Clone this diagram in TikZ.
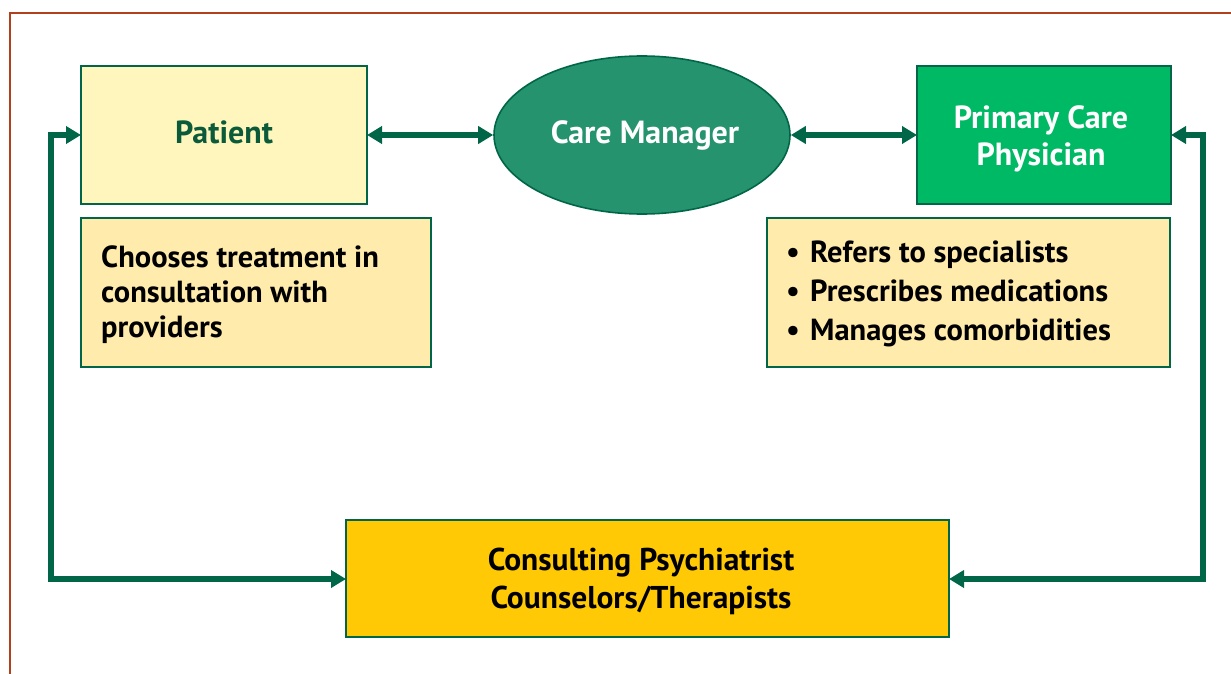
\documentclass[tikz,border=0pt]{standalone}
\usepackage{fontspec}
\setmainfont{PT Sans}
\usetikzlibrary{arrows.meta,shapes.geometric}
\definecolor{frame}{HTML}{B3401D}
\definecolor{dgreen}{HTML}{006647}
\definecolor{patfill}{HTML}{FEF6BD}
\definecolor{notefill}{HTML}{FFEBAB}
\definecolor{pcpfill}{HTML}{00B964}
\definecolor{cmfill}{HTML}{26936F}
\definecolor{psyfill}{HTML}{FFCA05}
\definecolor{pattext}{HTML}{0B5A3A}
\tikzset{
  boxst/.style={draw=dgreen, line width=1.6pt, inner sep=0pt},
  conn/.style={draw=dgreen, line width=5.5pt, {Triangle[length=15pt,width=17pt]}-{Triangle[length=15pt,width=17pt]}},
  txt/.style={font=\bfseries\fontsize{30.5}{35}\selectfont, inner sep=0pt},
  head/.style={font=\bfseries\fontsize{32}{37}\selectfont, inner sep=0pt},
}
\begin{document}
\begin{tikzpicture}[x=1pt,y=-1pt]
\useasboundingbox (0,0) rectangle (1231,674);
% frame
\draw[frame, line width=2.2pt] (10,680) -- (10,13) -- (1240,13);
% boxes
\path[boxst, fill=patfill] (81,66) rectangle (367,204);
\node[head, text=pattext] (pat) at (224,132) {Patient};
\coordinate (patW) at (81,135);
\coordinate (patE) at (367,135);
\node[boxst, fill=cmfill, ellipse, minimum width=296pt, minimum height=158pt] (cm) at (642,135) {};
\node[head, text=white] (cmt) at (645,135) {Care Manager};
\path[boxst, fill=pcpfill] (917,66) rectangle (1171,204);
\coordinate (pcpW) at (917,135);
\coordinate (pcpE) at (1171,135);
\node[head, text=white, align=center] (pcp) at (1041,139) {Primary Care\\Physician};
\path[boxst, fill=notefill] (81,218) rectangle (431,367);
\node[txt, anchor=base west] (ch1) at (101,267) {Chooses treatment in};
\node[txt, anchor=base west] (ch2) at (101,302) {consultation with};
\node[txt, anchor=base west] (ch3) at (101,337) {providers};
\path[boxst, fill=notefill] (767,218) rectangle (1170,367);
\foreach \y/\t in {262/Refers to specialists, 301/Prescribes medications, 340/Manages comorbidities}{
  \node[txt, anchor=base west] at (786,\y) {•};
  \node[txt, anchor=base west] at (810,\y) {\t};
}
\path[boxst, fill=psyfill, line width=1.2pt] (346,520) rectangle (949,637);
\coordinate (psyW) at (346,579);
\coordinate (psyE) at (949,579);
\node[head, align=center, font=\bfseries\fontsize{31.5}{38}\selectfont] (psy) at (641,581) {Consulting Psychiatrist\\Counselors/Therapists};
% connectors
\draw[conn] (patE) -- (cm.west);
\draw[conn] (cm.east) -- (pcpW);
\draw[conn] (patW) -- (51,135) -- (51,579) -- (psyW);
\draw[conn] (pcpE) -- (1203,135) -- (1203,579) -- (psyE);
\end{tikzpicture}
\end{document}
